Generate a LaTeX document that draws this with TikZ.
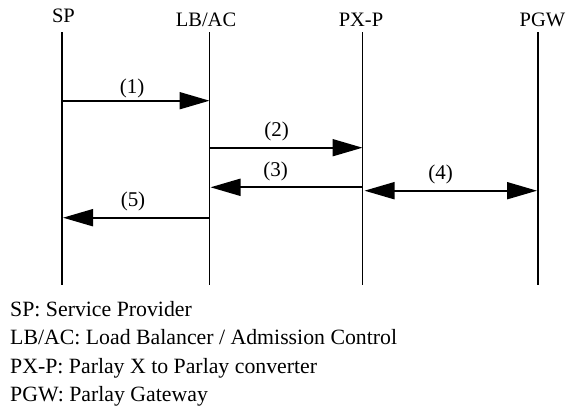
\documentclass[tikz,border=0pt]{standalone}
\usepackage{fontspec}
\setmainfont{Liberation Serif}
\usetikzlibrary{arrows.meta}
\begin{document}
\begin{tikzpicture}[x=1pt,y=-1pt,
  lifeline/.style={line width=1.9pt},
  msg/.style={line width=1.9pt,-{Triangle[length=30pt,width=17pt]}},
  msgboth/.style={line width=1.9pt,{Triangle[length=30pt,width=17pt]}-{Triangle[length=30pt,width=17pt]}},
  head/.style={anchor=base,font=\fontsize{20.5}{24}\selectfont,inner sep=0pt},
  lbl/.style={anchor=base,font=\fontsize{21}{24}\selectfont,inner sep=0pt},
  legend/.style={anchor=base west,font=\fontsize{21.8}{26}\selectfont,inner sep=0pt}]
\useasboundingbox (0,0) rectangle (566,410);

% participant headers
\node[head] (hSP) at (63.5,22.5) {SP};
\node[head] (hLB) at (206,26) {LB/AC};
\node[head] (hPX) at (361,26) {PX-P};
\node[head] (hPG) at (542.5,26) {PGW};

% lifelines
\coordinate (spT) at (62,32);   \coordinate (spB) at (62,285);
\coordinate (lbT) at (209.5,32); \coordinate (lbB) at (209.5,285);
\coordinate (pxT) at (362.5,32); \coordinate (pxB) at (362.5,285);
\coordinate (pgT) at (538,32);  \coordinate (pgB) at (538,285);
\draw[lifeline] (spT) -- (spB);
\draw[lifeline] (lbT) -- (lbB);
\draw[lifeline] (pxT) -- (pxB);
\draw[lifeline] (pgT) -- (pgB);

% message levels
\coordinate (y1) at (0,100.7);
\coordinate (y2) at (0,147.7);
\coordinate (y3) at (0,187.3);
\coordinate (y4) at (0,190.7);
\coordinate (y5) at (0,217.7);

% messages
\draw[msg] (spT |- y1) -- (lbT |- y1);
\draw[msg] (lbT |- y2) -- (pxT |- y2);
\draw[msg] (pxT |- y3) -- ([xshift=1pt]lbT |- y3);
\draw[msgboth] ([xshift=2pt]pxT |- y4) -- ([xshift=-1pt]pgT |- y4);
\draw[msg] (lbT |- y5) -- ([xshift=1pt]spT |- y5);

% message labels
\node[lbl] (m1) at (132,93) {(1)};
\node[lbl] (m2) at (276.5,136) {(2)};
\node[lbl] (m3) at (275.5,176) {(3)};
\node[lbl] (m4) at (440.5,179) {(4)};
\node[lbl] (m5) at (133,206) {(5)};

% legend
\node[legend] (l1) at (10,316) {SP: Service Provider};
\node[legend] (l2) at (10,344.5) {LB/AC: Load Balancer / Admission Control};
\node[legend] (l3) at (10,373) {PX-P: Parlay X to Parlay converter};
\node[legend] (l4) at (10,401.5) {PGW: Parlay Gateway};
\end{tikzpicture}
\end{document}
